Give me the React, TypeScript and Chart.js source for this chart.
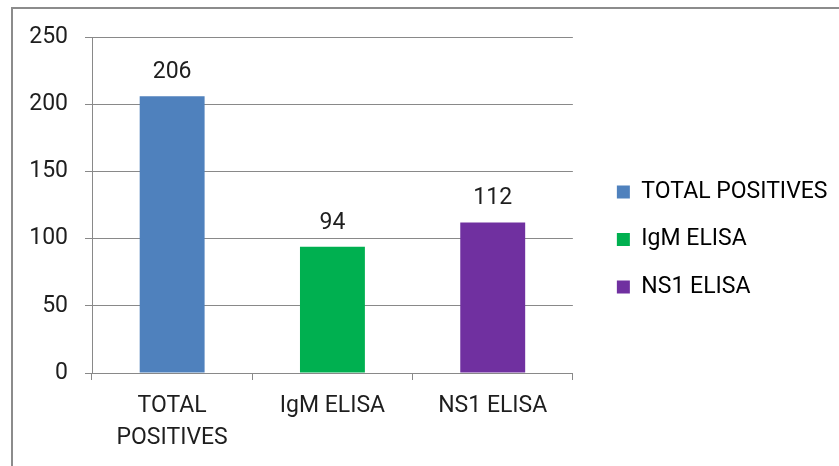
import React, { useEffect, useRef } from 'react';
import { Chart, registerables } from 'chart.js';

Chart.register(...registerables);

// Categories on the x axis (first one wraps onto two lines)
const categories: (string | string[])[] = [['TOTAL', 'POSITIVES'], 'IgM ELISA', 'NS1 ELISA'];
// Names shown in the legend, one per bar
const legendNames: string[] = ['TOTAL POSITIVES', 'IgM ELISA', 'NS1 ELISA'];
// Number of positive samples
const counts: number[] = [206, 94, 112];
const barColors: string[] = ['#4F81BD', '#00B050', '#7030A0'];
// Value axis
const yMin = 0;
const yMax = 250;
const yStep = 50;

const FONT_FAMILY = 'Roboto, "Liberation Sans", Arial, sans-serif';
const FONT_SIZE = 23;
const TEXT_COLOR = '#1e1e1e';
const LINE_COLOR = '#898989';

// Writes each bar's value above it
const valueLabels = {
  id: 'valueLabels',
  afterDatasetsDraw(chart: Chart) {
    const { ctx } = chart;
    const meta = chart.getDatasetMeta(0);
    ctx.save();
    ctx.font = `${FONT_SIZE}px ${FONT_FAMILY}`;
    ctx.fillStyle = TEXT_COLOR;
    ctx.textAlign = 'center';
    ctx.textBaseline = 'alphabetic';
    meta.data.forEach((bar: any, i: number) => {
      ctx.fillText(String(counts[i]), bar.x, bar.y - 18);
    });
    ctx.restore();
  },
};

// Invisible scale used only to reserve space in the layout
const spacer = (position: 'top' | 'right', size: number) => ({
  type: 'linear',
  position,
  display: true,
  grid: { display: false, drawTicks: false },
  border: { display: false },
  ticks: { display: false },
  afterFit: (scale: any) => {
    if (position === 'top') scale.height = size;
    else scale.width = size;
  },
});

export default function App() {
  const canvasRef = useRef<HTMLCanvasElement | null>(null);

  useEffect(() => {
    if (!canvasRef.current) return;
    Chart.defaults.font.family = FONT_FAMILY;
    Chart.defaults.font.size = FONT_SIZE;
    Chart.defaults.color = TEXT_COLOR;

    const chart = new Chart(canvasRef.current, {
      type: 'bar',
      data: {
        labels: categories,
        datasets: [
          {
            label: 'Positives',
            data: counts,
            backgroundColor: barColors,
            borderWidth: 0,
            barPercentage: 0.405,
            categoryPercentage: 1,
          },
        ],
      },
      options: {
        responsive: false,
        animation: false,
        devicePixelRatio: 1,
        layout: { padding: { top: 32, left: 0, right: 1.5, bottom: 19 } },
        plugins: {
          tooltip: { enabled: false },
          legend: {
            position: 'right',
            maxWidth: 320,
            labels: {
              boxWidth: 13,
              boxHeight: 13,
              padding: 24.5,
              color: TEXT_COLOR,
              font: { size: FONT_SIZE, family: FONT_FAMILY },
              generateLabels: () =>
                legendNames.map((name, i) => ({
                  text: name,
                  fillStyle: barColors[i],
                  strokeStyle: barColors[i],
                  lineWidth: 0,
                  hidden: false,
                  index: i,
                  datasetIndex: 0,
                })),
            },
            onClick: () => {},
          },
        },
        scales: {
          x: {
            offset: true,
            grid: {
              display: true,
              drawOnChartArea: false,
              drawTicks: true,
              tickLength: 7,
              color: LINE_COLOR,
              offset: true,
            },
            border: { display: true, color: LINE_COLOR, width: 1 },
            ticks: {
              padding: 10,
              color: TEXT_COLOR,
              maxRotation: 0,
              autoSkip: false,
              font: { size: FONT_SIZE, family: FONT_FAMILY, lineHeight: 1.4 },
            },
            afterFit: (scale: any) => {
              scale.height = 74;
            },
          },
          y: {
            min: yMin,
            max: yMax,
            ticks: {
              stepSize: yStep,
              padding: 17,
              color: TEXT_COLOR,
              font: { size: FONT_SIZE, family: FONT_FAMILY },
            },
            grid: {
              color: LINE_COLOR,
              tickLength: 7,
              drawTicks: true,
            },
            border: { display: true, color: LINE_COLOR, width: 1 },
            afterFit: (scale: any) => {
              scale.width = 92;
            },
          },
          gapTop: spacer('top', 5),
          gapRight: spacer('right', 19.5),
        },
      },
      plugins: [valueLabels],
    } as any);

    return () => chart.destroy();
  }, []);

  return (
    <div
      style={{
        position: 'fixed',
        left: 0,
        top: 0,
        width: 839,
        height: 466,
        background: '#ffffff',
        overflow: 'hidden',
      }}
    >
      <div
        style={{
          position: 'absolute',
          left: 11,
          top: 7,
          width: 900,
          height: 500,
          borderTop: '2px solid #8c8c8c',
          borderLeft: '2px solid #8c8c8c',
        }}
      />
      <canvas
        ref={canvasRef}
        width={839}
        height={466}
        style={{ position: 'absolute', left: 0, top: 0 }}
      />
    </div>
  );
}
